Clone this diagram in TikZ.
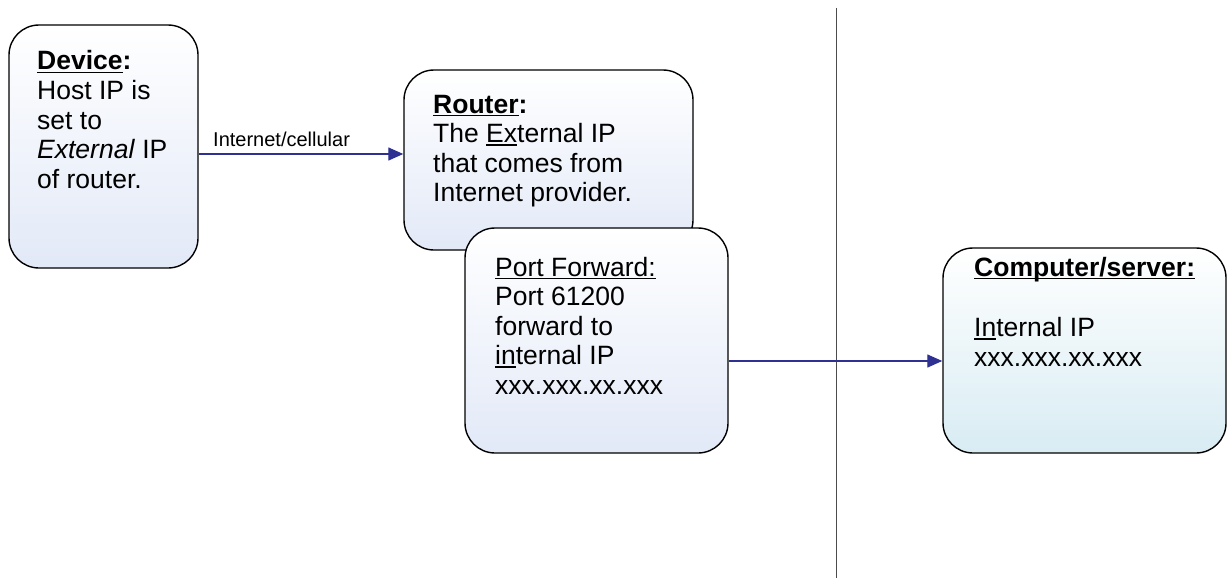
\documentclass[tikz,border=0pt]{standalone}
\usepackage{fontspec}
\setmainfont{Liberation Sans}
\usetikzlibrary{arrows.meta}
\definecolor{arrowblue}{RGB}{46,49,146}
\definecolor{boxlav}{RGB}{226,233,247}
\definecolor{boxcyan}{RGB}{216,236,243}
\newcommand\myul[1]{\setbox0\hbox{#1}\rlap{\rule[-3.2pt]{\wd0}{1.6pt}}\box0}
\begin{document}
\begin{tikzpicture}[x=1pt,y=-1pt,
  box/.style={draw=black,line width=1.4pt,rounded corners=30pt,top color=white,bottom color=boxlav,inner sep=0pt},
  txt/.style={anchor=base west,inner sep=0pt,font=\fontsize{26.5}{29.6}\selectfont},
  lbl/.style={anchor=base west,inner sep=0pt,font=\fontsize{20}{24}\selectfont},
  arr/.style={draw=arrowblue,line width=1.3pt,-{Triangle[length=15pt,width=13pt]}}]
\useasboundingbox (0,0) rectangle (1228,578);
% vertical divider
\coordinate (v1) at (836,8);
\coordinate (v2) at (836,578);
\draw[black!70,line width=0.9pt] (v1) -- (v2);
% boxes
\node[box,minimum width=189pt,minimum height=243pt] (dev) at (103.5,146.5) {};
\node[box,minimum width=289pt,minimum height=180pt] (rt) at (548.5,160) {};
\node[box,minimum width=263pt,minimum height=225pt] (pf) at (596.5,340.5) {};
\node[box,bottom color=boxcyan,minimum width=283pt,minimum height=205pt] (cs) at (1084.5,350.5) {};
% texts
\node[txt] (devt) at (37,70) {\begin{tabular}[t]{@{}l@{}}\textbf{\myul{Device}:}\\Host IP is\\set to\\\textit{External} IP\\of router.\end{tabular}};
\node[txt] (rtt) at (433,113) {\begin{tabular}[t]{@{}l@{}}\textbf{\myul{Router}:}\\The \myul{Ex}ternal IP\\that comes from\\Internet provider.\end{tabular}};
\node[txt] (pft) at (495,276) {\begin{tabular}[t]{@{}l@{}}\myul{Port Forward:}\\Port 61200\\forward to\\\myul{in}ternal IP\\xxx.xxx.xx.xxx\end{tabular}};
\node[txt] (cst) at (974,276) {\begin{tabular}[t]{@{}l@{}}\textbf{\myul{Computer/server:}}\\[31pt]\myul{In}ternal IP\\xxx.xxx.xx.xxx\end{tabular}};
% connectors
\coordinate (a1) at ([yshift=-7.5pt]dev.east);
\draw[arr] (a1) -- (a1 -| rt.west);
\node[lbl] (lab) at (213,146) {Internet/cellular};
\coordinate (a2) at ([yshift=-20.5pt]pf.east);
\draw[arr] (a2) -- (a2 -| cs.west);
\end{tikzpicture}
\end{document}
